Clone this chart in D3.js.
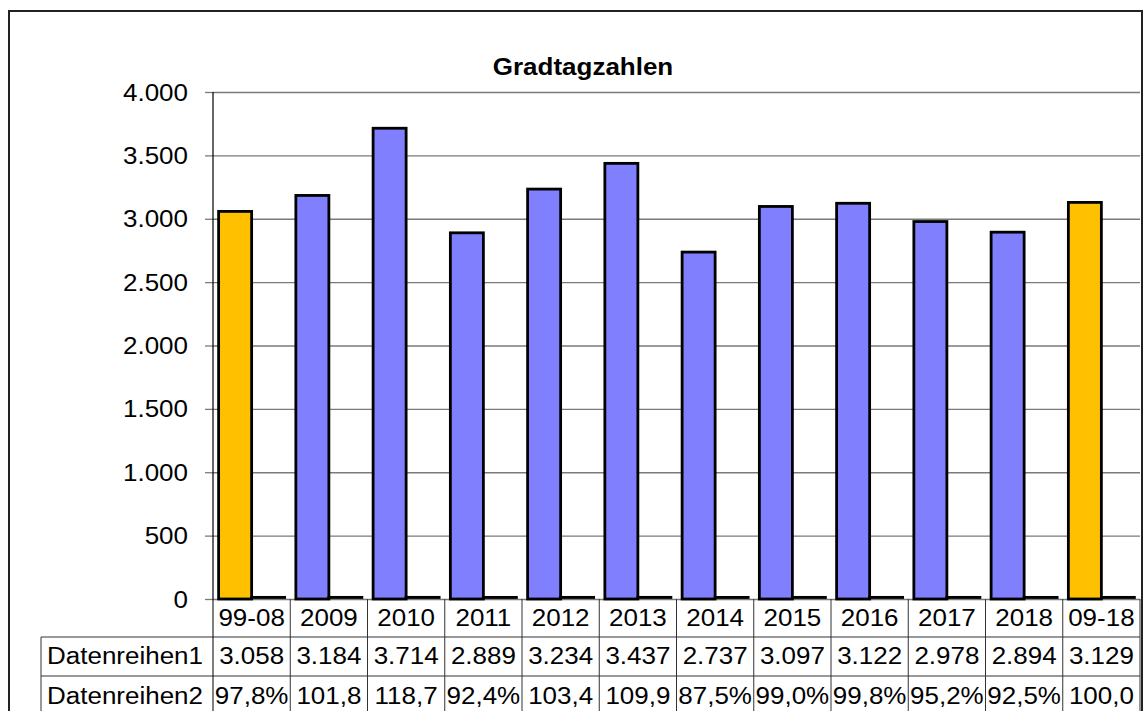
<!DOCTYPE html>
<html>
<head>
<meta charset="utf-8">
<script src="https://cdn.jsdelivr.net/npm/d3@7"></script>
<style>
  body { margin: 0; background: #fff; }
  svg { display: block; font-family: "Liberation Sans", Arial, sans-serif; }
</style>
</head>
<body>
<div id="chart"></div>
<script>
// chart data
const categories = ["99-08", "2009", "2010", "2011", "2012", "2013", "2014", "2015", "2016", "2017", "2018", "09-18"];
const series1 = [3058, 3184, 3714, 2889, 3234, 3437, 2737, 3097, 3122, 2978, 2894, 3129];
const series2 = [97.8, 101.8, 118.7, 92.4, 103.4, 109.9, 87.5, 99.0, 99.8, 95.2, 92.5, 100.0];
const seriesNames = ["Datenreihen1", "Datenreihen2"];
const yTicks = [0, 500, 1000, 1500, 2000, 2500, 3000, 3500, 4000];
const averageCats = ["99-08", "09-18"];

const W = 1143, H = 711;
const margin = {top: 92, left: 213, right: 3, bottom: 112};
const fontSize = 23, stretch = 1.13;   // picture text is a bit wider than tall

const de = d3.formatLocale({decimal: ",", thousands: ".", grouping: [3], currency: ["", " €"]});
const fmtInt = de.format(",.0f");
const fmtPct = de.format(".1f");

const svg = d3.select("#chart").append("svg")
    .attr("width", W)
    .attr("height", H);

svg.append("rect").attr("width", W).attr("height", H).attr("fill", "#fff");

// outer frame
svg.append("rect")
    .attr("x", 9).attr("y", 11)
    .attr("width", 1133).attr("height", 740)
    .attr("fill", "none")
    .attr("stroke", "#222")
    .attr("stroke-width", 2);

const x0 = d3.scaleBand()
    .domain(categories)
    .range([margin.left, W - margin.right]);

const x1 = d3.scaleBand()
    .domain(seriesNames)
    .range([0, x0.bandwidth()])
    .paddingInner(0)
    .paddingOuter(0.17);

const baseY = H - margin.bottom;
const y = d3.scaleLinear()
    .domain([0, 4000])
    .range([baseY, margin.top]);

function putText(sel, x, yy) {
  return sel.attr("transform", `translate(${x},${yy}) scale(${stretch},1)`)
    .style("font-size", fontSize + "px")
    .attr("fill", "#000");
}

// grid lines
svg.append("g")
    .attr("transform", `translate(${margin.left},0)`)
    .call(d3.axisLeft(y).tickValues(yTicks).tickSize(-(W - margin.right - margin.left)).tickFormat(""))
    .call(g => g.select(".domain").remove())
    .call(g => g.selectAll(".tick line").attr("stroke", "#7a7a7a").attr("stroke-width", 1.3));

// y axis ticks
const yAxis = svg.append("g")
    .attr("transform", `translate(${margin.left},0)`)
    .call(d3.axisLeft(y).tickValues(yTicks).tickSize(8).tickFormat(""));
yAxis.select(".domain").remove();
yAxis.selectAll(".tick line").attr("stroke", "#7a7a7a").attr("stroke-width", 1.3);

svg.append("g").selectAll("text")
  .data(yTicks)
  .join("text")
    .attr("text-anchor", "end")
    .each(function(d) { putText(d3.select(this), 188, y(d) + 8.5); })
    .text(d => fmtInt(d));

// axis line
svg.append("line")
    .attr("x1", margin.left).attr("x2", margin.left)
    .attr("y1", margin.top).attr("y2", baseY)
    .attr("stroke", "#000").attr("stroke-width", 1.2);

// bars
const rows = categories.map((c, i) => ({cat: c, values: [
  {s: seriesNames[0], v: series1[i]},
  {s: seriesNames[1], v: series2[i] / 100}
]}));

const groups = svg.append("g").selectAll("g")
  .data(rows)
  .join("g")
    .attr("transform", d => `translate(${x0(d.cat)},0)`);

groups.selectAll("rect")
  .data(d => d.values.map(v => ({...v, cat: d.cat})))
  .join("rect")
    .attr("x", d => x1(d.s))
    .attr("y", d => y(d.v) - (d.s === seriesNames[1] ? 1.5 : 0))
    .attr("width", x1.bandwidth())
    .attr("height", d => baseY - y(d.v))
    .attr("fill", d => d.s === seriesNames[1] ? "none" : (averageCats.includes(d.cat) ? "#FFC000" : "#8080FF"))
    .attr("stroke", "#000")
    .attr("stroke-width", 2.8);

// data table
const rowTop = [baseY, 637, 676, 716];
const tableLeft = 41;
const lineColor = "#333";
const table = svg.append("g");

[rowTop[1], rowTop[2]].forEach(yy => {
  table.append("line")
      .attr("x1", tableLeft).attr("x2", W - margin.right)
      .attr("y1", yy).attr("y2", yy)
      .attr("stroke", lineColor).attr("stroke-width", 1);
});

// vertical lines
const bounds = categories.map(c => x0(c)).concat([x0(categories[categories.length - 1]) + x0.bandwidth()]);
table.selectAll(".vline")
  .data(bounds)
  .join("line")
    .attr("x1", d => d).attr("x2", d => d)
    .attr("y1", baseY).attr("y2", H)
    .attr("stroke", (d, i) => i === 0 ? "#000" : lineColor)
    .attr("stroke-width", 1);
table.append("line")
    .attr("x1", tableLeft).attr("x2", tableLeft)
    .attr("y1", rowTop[1]).attr("y2", H)
    .attr("stroke", lineColor).attr("stroke-width", 1);

const mid = (a, b) => (a + b) / 2;

// category row
table.append("g").selectAll("text")
  .data(categories)
  .join("text")
    .attr("text-anchor", "middle")
    .each(function(d) { putText(d3.select(this), x0(d) + x0.bandwidth() / 2, mid(rowTop[0], rowTop[1]) + 7.5); })
    .text(d => d);

// row headers
table.append("g").selectAll("text")
  .data(seriesNames)
  .join("text")
    .attr("text-anchor", "middle")
    .each(function(d, i) { putText(d3.select(this), 125, mid(rowTop[i + 1], rowTop[i + 2]) + 7.5); })
    .text(d => d);

// series 1 values
table.append("g").selectAll("text")
  .data(series1)
  .join("text")
    .attr("text-anchor", "middle")
    .each(function(d, i) { putText(d3.select(this), x0(categories[i]) + x0.bandwidth() / 2, mid(rowTop[1], rowTop[2]) + 7.5); })
    .text(d => fmtInt(d));

// series 2 values, "%" dropped when the cell is too narrow
table.append("g").selectAll("text")
  .data(series2)
  .join("text")
    .attr("text-anchor", "middle")
    .each(function(d, i) { putText(d3.select(this), x0(categories[i]) + x0.bandwidth() / 2, mid(rowTop[2], rowTop[3]) + 7.5); })
    .text(d => fmtPct(d) + "%")
    .each(function(d) {
      const el = d3.select(this);
      if (this.getComputedTextLength() * stretch > x0.bandwidth() - 1) el.text(fmtPct(d));
    });

// title
svg.append("text")
    .attr("text-anchor", "middle")
    .attr("font-weight", "bold")
    .call(s => putText(s, 583, 75))
    .text("Gradtagzahlen");
</script>
</body>
</html>
